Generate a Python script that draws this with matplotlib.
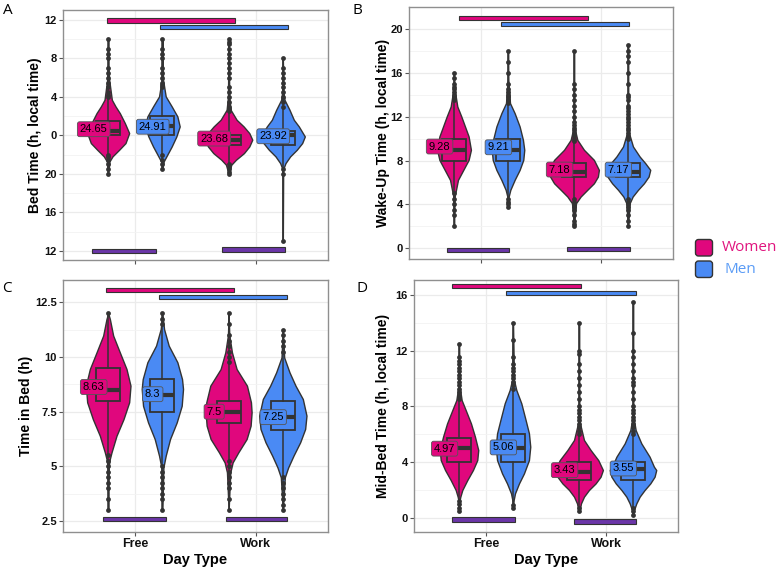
import numpy as np
import matplotlib
matplotlib.use('Agg')
import matplotlib.pyplot as plt
from matplotlib.patches import Rectangle, FancyBboxPatch
from matplotlib.ticker import FixedLocator

plt.rcParams['font.family'] = ['Liberation Sans', 'DejaVu Sans']

W, H = 776, 567
PINK = '#E0077D'
BLUE = '#4A8AF4'
PURPLE = '#6B36A8'
DARK = '#333333'

DAY_TYPES = ['Free', 'Work']
SEXES = ['Women', 'Men']

# --- Panel A: bed time (h, 24 = midnight) ---
A_PROFILES = {
    ('Free', 'Women'): [(20.0, 0), (21.31, 0.04), (21.83, 0.13), (22.52, 0.33), (23.21, 0.52), (24.25, 0.63),
                        (25.29, 0.50), (26.32, 0.35), (27.02, 0.22), (27.71, 0.11), (29.79, 0.03), (31.0, 0.01), (34.0, 0)],
    ('Free', 'Men'): [(20.5, 0), (21.31, 0.04), (21.83, 0.12), (22.86, 0.28), (23.9, 0.42), (24.94, 0.52),
                      (25.98, 0.45), (27.02, 0.28), (28.06, 0.10), (29.79, 0.02), (34.0, 0)],
    ('Work', 'Women'): [(20.0, 0), (20.96, 0.08), (21.48, 0.22), (22.17, 0.46), (22.86, 0.62), (23.56, 0.71),
                        (24.25, 0.62), (24.94, 0.45), (25.63, 0.24), (26.67, 0.06), (28.0, 0.02), (34.0, 0)],
    ('Work', 'Men'): [(13.0, 0), (20.5, 0.01), (21.13, 0.08), (21.83, 0.22), (22.52, 0.42), (23.21, 0.58),
                      (23.9, 0.66), (24.94, 0.48), (25.63, 0.33), (26.67, 0.20), (27.71, 0.05), (28.5, 0.02), (32.0, 0)],
}
A_BOXES = {('Free', 'Women'): (24.0, 24.5, 25.5), ('Free', 'Men'): (24.0, 25.0, 26.0),
           ('Work', 'Women'): (23.0, 23.5, 24.0), ('Work', 'Men'): (23.0, 24.0, 24.5)}
A_MEANS = {('Free', 'Women'): 24.65, ('Free', 'Men'): 24.91, ('Work', 'Women'): 23.68, ('Work', 'Men'): 23.92}
A_OUTLIERS = {
    ('Free', 'Women'): [34, 33, 32.5, 32, 31, 30.5, 30, 29.5, 29, 28.5, 28.25, 28, 22, 21.75, 21.5, 21, 20.5, 20],
    ('Free', 'Men'): [34, 33, 32.5, 32, 31, 30.5, 30, 29.5, 29.25, 29, 22, 21.5, 21, 20.5],
    ('Work', 'Women'): [34, 33.75, 33.5, 33, 32.5, 32, 31.5, 31, 30.5, 30, 29, 28.5, 28, 27.5, 27, 26.75, 26.5,
                        21, 20.75, 20.5, 20.25, 20],
    ('Work', 'Men'): [32, 31, 30.5, 30, 29.5, 29, 28.5, 28, 27.5, 27, 20.5, 20, 13],
}

# --- Panel B: wake-up time ---
B_PROFILES = {
    ('Free', 'Women'): [(2.0, 0), (4.72, 0.02), (5.33, 0.06), (6.24, 0.12), (7.15, 0.28), (8.06, 0.44), (8.98, 0.51),
                        (10.2, 0.44), (11.11, 0.33), (12.02, 0.22), (12.93, 0.10), (14.46, 0.02), (16.0, 0)],
    ('Free', 'Men'): [(3.7, 0), (4.72, 0.02), (5.33, 0.07), (6.24, 0.20), (7.15, 0.35), (8.06, 0.46), (8.98, 0.49),
                      (9.89, 0.45), (11.11, 0.35), (12.32, 0.20), (13.24, 0.06), (15.37, 0.01), (18.0, 0)],
    ('Work', 'Women'): [(2.0, 0), (4.11, 0.06), (4.72, 0.20), (5.33, 0.40), (5.93, 0.60), (6.54, 0.72), (7.15, 0.75),
                        (8.06, 0.60), (8.98, 0.30), (9.89, 0.10), (10.8, 0.03), (12.0, 0.01), (18.0, 0)],
    ('Work', 'Men'): [(2.0, 0), (4.11, 0.05), (4.72, 0.14), (5.33, 0.30), (5.93, 0.48), (6.54, 0.62), (7.15, 0.67),
                      (7.76, 0.52), (8.37, 0.35), (9.28, 0.15), (10.5, 0.03), (12.0, 0.01), (18.5, 0)],
}
B_BOXES = {('Free', 'Women'): (8.0, 9.0, 10.0), ('Free', 'Men'): (8.0, 9.0, 10.0),
           ('Work', 'Women'): (6.5, 7.0, 7.75), ('Work', 'Men'): (6.5, 7.0, 7.75)}
B_MEANS = {('Free', 'Women'): 9.28, ('Free', 'Men'): 9.21, ('Work', 'Women'): 7.18, ('Work', 'Men'): 7.17}
B_OUTLIERS = {
    ('Free', 'Women'): [16, 15.5, 15, 14.75, 14.5, 14.25, 14, 13.75, 13.5, 5, 4.5, 4, 3.5, 3, 2],
    ('Free', 'Men'): [18, 17, 16, 15, 14.5, 14.25, 14, 13.75, 13.5, 13.25, 4.5, 4.25, 4, 3.75],
    ('Work', 'Women'): [18, 15, 14.5, 14, 13.5, 13, 12.5, 12, 11.5, 11.25, 11, 10.75, 10.5, 10.25, 10, 9.75,
                        4.5, 4.25, 4, 3.75, 3.5, 3, 2.5, 2.25, 2],
    ('Work', 'Men'): [18.5, 18, 17.5, 17, 16, 15, 14, 13.75, 13.5, 13, 12.75, 12.5, 12.25, 12, 11.75, 11.5, 11.25,
                      11, 10.75, 10.5, 10.25, 10, 4.5, 4.25, 4, 3.75, 3.5, 3, 2.5, 2],
}

# --- Panel C: time in bed ---
C_PROFILES = {
    ('Free', 'Women'): [(3.0, 0), (5.03, 0.02), (5.34, 0.05), (5.64, 0.10), (6.40, 0.25), (7.16, 0.46), (7.93, 0.63),
                        (8.69, 0.67), (9.45, 0.55), (10.21, 0.35), (10.98, 0.15), (11.74, 0.05), (12.0, 0)],
    ('Free', 'Men'): [(3.0, 0), (4.95, 0.03), (5.49, 0.10), (6.25, 0.23), (7.01, 0.43), (7.77, 0.58), (8.54, 0.62),
                      (8.99, 0.59), (9.76, 0.45), (10.52, 0.19), (11.28, 0.05), (12.0, 0)],
    ('Work', 'Women'): [(3.0, 0), (4.73, 0.05), (5.18, 0.12), (5.64, 0.29), (6.25, 0.54), (6.86, 0.66), (7.47, 0.69),
                        (7.93, 0.67), (8.69, 0.55), (9.45, 0.24), (10.21, 0.10), (11.0, 0.02), (12.0, 0)],
    ('Work', 'Men'): [(3.0, 0), (4.5, 0.06), (4.95, 0.16), (5.49, 0.32), (6.1, 0.52), (6.71, 0.67), (7.32, 0.71),
                      (8.08, 0.60), (8.69, 0.38), (9.3, 0.20), (9.98, 0.04), (11.25, 0)],
}
C_BOXES = {('Free', 'Women'): (8.0, 8.5, 9.5), ('Free', 'Men'): (7.5, 8.25, 9.0),
           ('Work', 'Women'): (7.0, 7.5, 8.0), ('Work', 'Men'): (6.67, 7.25, 8.0)}
C_MEANS = {('Free', 'Women'): 8.63, ('Free', 'Men'): 8.3, ('Work', 'Women'): 7.5, ('Work', 'Men'): 7.25}
C_OUTLIERS = {
    ('Free', 'Women'): [12, 5.5, 5.25, 5, 4.75, 4.5, 4.25, 4, 3.5, 3],
    ('Free', 'Men'): [12, 11.75, 11.5, 5, 4.75, 4.5, 4.25, 4, 3.75, 3.5, 3],
    ('Work', 'Women'): [12, 11.5, 11, 10.75, 10.5, 10.25, 10, 9.75, 5.25, 5, 4.75, 4.5, 4.25, 4, 3.5, 3],
    ('Work', 'Men'): [11.25, 11, 10.75, 10.5, 10.25, 4.5, 4.25, 4, 3.75, 3.5, 3.25, 3],
}

# --- Panel D: mid-bed time ---
D_PROFILES = {
    ('Free', 'Women'): [(0.5, 0), (1.17, 0.01), (1.53, 0.04), (2.01, 0.10), (2.72, 0.25), (3.44, 0.42), (4.15, 0.55),
                        (4.87, 0.58), (5.83, 0.48), (6.78, 0.36), (7.74, 0.20), (8.45, 0.08), (9.4, 0.02), (12.5, 0)],
    ('Free', 'Men'): [(0.75, 0), (1.29, 0.02), (1.77, 0.06), (2.48, 0.18), (3.2, 0.33), (4.15, 0.48), (5.11, 0.52),
                      (6.07, 0.48), (7.02, 0.38), (8.22, 0.25), (9.17, 0.10), (9.88, 0.03), (14.0, 0)],
    ('Work', 'Women'): [(0.45, 0), (0.57, 0.02), (1.05, 0.06), (1.53, 0.15), (2.01, 0.30), (2.48, 0.50), (2.96, 0.65),
                        (3.44, 0.72), (4.15, 0.58), (4.87, 0.35), (5.59, 0.15), (6.78, 0.03), (8.0, 0.01), (14.0, 0)],
    ('Work', 'Men'): [(0.25, 0), (0.57, 0.03), (1.05, 0.10), (1.53, 0.20), (2.01, 0.35), (2.48, 0.52), (2.96, 0.65),
                      (3.44, 0.70), (3.68, 0.63), (4.39, 0.50), (5.35, 0.25), (6.3, 0.08), (7.0, 0.03), (8.0, 0.01),
                      (15.5, 0)],
}
D_BOXES = {('Free', 'Women'): (4.0, 5.0, 5.75), ('Free', 'Men'): (4.0, 5.0, 6.0),
           ('Work', 'Women'): (2.75, 3.33, 4.0), ('Work', 'Men'): (2.75, 3.5, 4.0)}
D_MEANS = {('Free', 'Women'): 4.97, ('Free', 'Men'): 5.06, ('Work', 'Women'): 3.43, ('Work', 'Men'): 3.55}
D_OUTLIERS = {
    ('Free', 'Women'): [12.5, 11.5, 11.25, 11, 10.75, 10.5, 10.25, 10, 9.75, 9.5, 9.25, 9, 8.75, 8.5,
                        1.25, 1, 0.75, 0.5],
    ('Free', 'Men'): [14, 12.75, 11.5, 11, 10.75, 10.5, 10.25, 10, 9.75, 9.5, 9.25, 0.9, 0.75],
    ('Work', 'Women'): [14, 12, 11.75, 11, 10.5, 10, 9.5, 9, 8.5, 8, 7.75, 7.5, 7.25, 7, 6.75, 6.5, 6.25, 6,
                        0.75, 0.5],
    ('Work', 'Men'): [15.5, 13.25, 12, 11.5, 11, 10.5, 10, 9.75, 9.5, 9, 8.5, 8, 7.75, 7.5, 7.25, 7, 6.75, 6.5,
                      6.25, 6, 0.75, 0.5, 0.25],
}

# --- layout (pixels in the 776x567 figure) ---
VIOLIN_SCALE = 0.2766
DODGE = 0.225
BOX_W = 0.2
LABEL_DX = [-0.12, -0.08]
BAR_PX = 4.3

PANELS = [
    dict(letter='A', rect=(63, 10, 328, 260), ylim=(11.06, 37.04),
         ticks=[12, 16, 20, 24, 28, 32, 36], ticklabels=['12', '16', '20', '0', '4', '8', '12'],
         ylabel='Bed Time (h, local time)', ylab_x=-0.079, xlabels=False,
         data=(A_PROFILES, A_BOXES, A_MEANS, A_OUTLIERS),
         bars=[(0.765, 1.827, 35.95, PINK), (1.205, 2.267, 35.3, BLUE),
               (0.64, 1.17, 12.02, PURPLE), (1.72, 2.24, 12.14, PURPLE)],
         letter_xy=(3, 3)),
    dict(letter='B', rect=(409, 7, 673, 258.5), ylim=(-0.93, 22.0),
         ticks=[0, 4, 8, 12, 16, 20], ticklabels=['0', '4', '8', '12', '16', '20'],
         ylabel='Wake-Up Time (h, local time)', ylab_x=-0.072, xlabels=False,
         data=(B_PROFILES, B_BOXES, B_MEANS, B_OUTLIERS),
         bars=[(0.82, 1.89, 20.99, PINK), (1.167, 2.236, 20.44, BLUE),
               (0.72, 1.236, -0.16, PURPLE), (1.72, 2.24, -0.06, PURPLE)],
         letter_xy=(353, 3)),
    dict(letter='C', rect=(63, 280, 328, 532), ylim=(2.0, 13.52),
         ticks=[2.5, 5, 7.5, 10, 12.5], ticklabels=['2.5', '5', '7.5', '10', '12.5'],
         ylabel='Time in Bed (h)', ylab_x=-0.115, xlabels=True,
         data=(C_PROFILES, C_BOXES, C_MEANS, C_OUTLIERS),
         bars=[(0.754, 1.82, 13.05, PINK), (1.2, 2.26, 12.73, BLUE),
               (0.73, 1.255, 2.58, PURPLE), (1.75, 2.26, 2.58, PURPLE)],
         letter_xy=(2, 281)),
    dict(letter='D', rect=(414, 280, 678, 532), ylim=(-1.0, 17.05),
         ticks=[0, 4, 8, 12, 16], ticklabels=['0', '4', '8', '12', '16'],
         ylabel='Mid-Bed Time (h, local time)', ylab_x=-0.091, xlabels=True,
         data=(D_PROFILES, D_BOXES, D_MEANS, D_OUTLIERS),
         bars=[(0.714, 1.79, 16.6, PINK), (1.167, 2.25, 16.1, BLUE),
               (0.72, 1.24, -0.1, PURPLE), (1.73, 2.25, -0.25, PURPLE)],
         letter_xy=(357, 281)),
]


def draw_panel(ax, p):
    profiles, boxes, means, outliers = p['data']
    x0, y0, x1, y1 = p['rect']
    ymin, ymax = p['ylim']
    px_per_unit = (y1 - y0) / (ymax - ymin)

    for i, day in enumerate(DAY_TYPES):
        for j, sex in enumerate(SEXES):
            key = (day, sex)
            xc = i + 1 + (-DODGE if j == 0 else DODGE)
            col = PINK if j == 0 else BLUE
            prof = np.array(profiles[key], dtype=float)
            y, d = prof[:, 0], prof[:, 1] * VIOLIN_SCALE
            ax.fill_betweenx(y, xc - d, xc + d, facecolor=col, edgecolor=DARK, lw=1.0, zorder=2)

            q1, med, q3 = boxes[key]
            ax.plot([xc, xc], [y.min(), q1], color=DARK, lw=1.1, zorder=3)
            ax.plot([xc, xc], [q3, y.max()], color=DARK, lw=1.1, zorder=3)
            ax.add_patch(Rectangle((xc - BOX_W / 2, q1), BOX_W, q3 - q1, fill=False,
                                   ec=DARK, lw=1.3, zorder=4))
            ax.plot([xc - BOX_W / 2, xc + BOX_W / 2], [med, med], color=DARK, lw=3.0,
                    solid_capstyle='butt', zorder=4)

            pts = np.array(outliers[key], dtype=float)
            ax.scatter(np.full(len(pts), xc), pts, s=12, color=DARK, lw=0, zorder=5)

            ax.text(xc + LABEL_DX[j], means[key], f'{means[key]:g}', ha='center', va='center',
                    fontsize=8, color='black', zorder=6,
                    bbox=dict(boxstyle='round,pad=0.22,rounding_size=0.2', fc=col, ec='#555555', lw=0.6))

    bar_h = BAR_PX / px_per_unit
    for bx0, bx1, by, col in p['bars']:
        ax.add_patch(Rectangle((bx0, by - bar_h / 2), bx1 - bx0, bar_h, fc=col, ec=DARK,
                               lw=0.8, zorder=5))

    ax.set_xlim(0.4, 2.6)
    ax.set_ylim(ymin, ymax)
    ax.set_xticks([1, 2])
    if p['xlabels']:
        ax.set_xticklabels(DAY_TYPES, fontsize=9, fontweight='bold')
        ax.set_xlabel('Day Type', fontsize=10.5, fontweight='bold', labelpad=2)
    else:
        ax.set_xticklabels([])
    ticks = p['ticks']
    ax.set_yticks(ticks)
    ax.set_yticklabels(p['ticklabels'], fontsize=8, fontweight='bold')
    minors = [(a + b) / 2 for a, b in zip(ticks[:-1], ticks[1:])]
    ax.yaxis.set_minor_locator(FixedLocator(minors))
    ax.grid(which='major', color='#EBEBEB', lw=0.9)
    ax.grid(which='minor', axis='y', color='#F3F3F3', lw=0.6)
    ax.set_axisbelow(True)
    for s in ax.spines.values():
        s.set_color('#8F8F8F')
        s.set_linewidth(1.0)
    ax.tick_params(which='major', length=3, color='#555555', width=0.8, pad=1.5, labelcolor='#111111')
    ax.tick_params(which='minor', length=0)
    ax.set_ylabel(p['ylabel'], fontsize=10, fontweight='bold')
    ax.yaxis.set_label_coords(p['ylab_x'], 0.5)


fig = plt.figure(figsize=(W / 100, H / 100), dpi=100)
for p in PANELS:
    x0, y0, x1, y1 = p['rect']
    ax = fig.add_axes([x0 / W, 1 - y1 / H, (x1 - x0) / W, (y1 - y0) / H])
    draw_panel(ax, p)
    lx, ly = p['letter_xy']
    fig.text(lx / W, 1 - ly / H, p['letter'], ha='left', va='top', fontsize=11,
             family=['Open Sans', 'DejaVu Sans'])

# legend drawn in a pixel-scaled axes
lax = fig.add_axes([690 / W, 1 - 285 / H, 86 / W, 55 / H])
lax.set_xlim(690, 776)
lax.set_ylim(285, 230)
lax.axis('off')
for k, (sex, col, txtcol) in enumerate(zip(SEXES, [PINK, BLUE], ['#E0157F', '#5B9CF6'])):
    top = 239.5 + k * 21.5
    lax.add_patch(FancyBboxPatch((695.5, top), 17, 16.5, boxstyle='round,pad=0,rounding_size=3',
                                 fc=col, ec=DARK, lw=1.0))
    lax.text(722 if k == 0 else 724, top + 8.5, sex, ha='left', va='center', fontsize=11, color=txtcol,
             family=['Open Sans', 'DejaVu Sans'])

fig.savefig('out.png', dpi=100)
